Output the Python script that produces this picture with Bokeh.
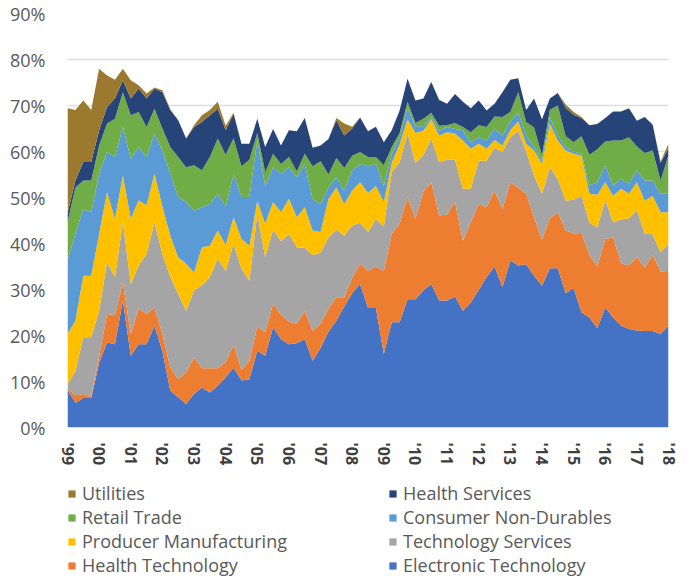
from bokeh.plotting import figure
from bokeh.layouts import column
from bokeh.models import ColumnDataSource, Range1d, FixedTicker, Legend, LegendItem
from bokeh.embed import file_html
from bokeh.resources import INLINE

# ---- data (share of index, %, quarterly from Q1 1999 to Q1 2018) ----
year_labels = ["'99", "'00", "'01", "'02", "'03", "'04", "'05", "'06", "'07", "'08",
               "'09", "'10", "'11", "'12", "'13", "'14", "'15", "'16", "'17", "'18"]

electronic_technology = [8.2, 5.3, 6.4, 6.4, 14.0, 18.5, 18.1, 27.6, 15.6, 18.1, 18.1, 22.1, 16.6, 8.0, 6.6, 5.1,
    7.3, 8.7, 7.6, 9.1, 10.9, 13.0, 10.2, 10.5, 16.7, 15.6, 21.8, 19.2, 18.1, 18.3, 19.2, 14.5,
    17.3, 20.8, 23.2, 26.3, 29.2, 31.2, 26.0, 26.0, 16.0, 22.9, 22.9, 27.9, 27.9, 29.8, 31.2, 27.6,
    27.6, 28.5, 25.4, 27.2, 29.9, 32.7, 35.0, 30.5, 36.3, 35.2, 35.5, 33.0, 30.8, 34.6, 34.6, 29.2,
    30.3, 25.0, 23.9, 21.6, 26.1, 23.9, 22.1, 21.4, 21.1, 21.0, 21.0, 20.3, 22.1]
health_technology = [0.4, 1.7, 0.9, 0.4, 1.5, 6.2, 6.3, 4.0, 4.7, 7.7, 6.6, 4.0, 3.7, 5.1, 3.9, 6.9,
    7.9, 4.2, 5.3, 3.8, 3.3, 5.0, 2.3, 4.0, 5.3, 5.1, 5.1, 5.3, 4.9, 4.2, 6.2, 6.5,
    5.3, 5.0, 5.1, 2.0, 3.3, 4.4, 8.0, 9.0, 18.0, 19.2, 21.4, 22.2, 17.5, 21.5, 22.1, 18.5,
    18.7, 20.6, 15.2, 17.4, 18.7, 15.2, 16.5, 17.0, 17.0, 17.0, 15.3, 12.7, 10.0, 10.9, 12.2, 13.6,
    11.9, 17.3, 13.6, 13.4, 14.9, 17.4, 13.6, 13.8, 15.9, 13.8, 16.5, 13.6, 11.9]
technology_services = [0.8, 5.3, 12.3, 12.8, 9.9, 11.2, 8.3, 13.0, 10.9, 9.4, 13.0, 18.5, 17.4, 19.6, 18.5, 13.4,
    14.6, 18.0, 19.8, 23.8, 19.8, 22.0, 22.0, 17.4, 24.5, 16.3, 16.1, 16.0, 19.0, 16.7, 13.6, 16.5,
    15.4, 15.5, 14.7, 13.4, 11.4, 8.9, 8.5, 10.3, 9.7, 13.4, 13.4, 13.9, 12.1, 7.9, 9.5, 11.6,
    11.9, 9.1, 11.3, 7.3, 9.4, 10.1, 9.3, 12.4, 9.8, 12.3, 9.2, 9.1, 10.0, 11.1, 7.2, 6.5,
    7.3, 8.1, 7.0, 8.5, 8.5, 3.3, 9.5, 10.3, 10.3, 7.3, 4.5, 4.2, 5.9]
producer_manufacturing = [10.9, 10.9, 13.4, 13.4, 16.7, 15.3, 12.7, 10.2, 14.2, 14.2, 10.6, 10.6, 10.3, 9.0, 8.0, 10.2,
    3.9, 8.3, 6.8, 6.1, 5.7, 5.7, 6.5, 7.6, 2.8, 7.3, 6.0, 6.3, 7.7, 6.5, 8.9, 5.3,
    4.5, 8.4, 9.2, 6.9, 7.6, 8.8, 8.5, 7.2, 5.3, 2.0, 3.8, 3.0, 6.5, 5.3, 4.2, 5.8,
    6.0, 5.7, 10.5, 8.7, 3.7, 2.6, 1.7, 1.4, 1.5, 2.1, 1.7, 5.4, 6.5, 9.4, 8.4, 10.9,
    10.0, 8.7, 6.3, 7.1, 3.8, 5.8, 6.7, 5.3, 6.0, 7.2, 8.4, 8.7, 6.9]
consumer_non_durables = [16.0, 18.9, 14.5, 13.8, 13.1, 8.7, 13.4, 10.5, 13.0, 11.6, 10.5, 8.7, 12.2, 13.5, 13.1, 13.4,
    13.5, 8.7, 9.1, 8.0, 8.3, 9.3, 9.1, 10.6, 13.2, 8.2, 7.6, 8.4, 6.9, 8.7, 9.4, 6.9,
    6.1, 2.5, 2.2, 2.9, 4.4, 4.0, 5.8, 4.8, 3.5, 2.0, 1.5, 2.5, 1.5, 1.0, 0.5, 1.0,
    1.1, 1.0, 2.2, 1.4, 1.4, 1.8, 2.5, 2.2, 1.9, 1.9, 1.8, 0.8, 0.7, 1.5, 1.1, 0.8,
    0.5, 0.4, 1.8, 2.7, 3.7, 2.2, 2.2, 2.2, 2.6, 4.4, 3.3, 4.0, 4.0]
retail_trade = [8.3, 10.1, 6.2, 6.9, 6.1, 6.2, 8.3, 7.6, 9.5, 7.6, 6.5, 5.4, 4.8, 5.8, 8.7, 7.6,
    9.8, 8.0, 10.2, 12.0, 11.3, 7.9, 6.7, 8.1, 1.5, 3.0, 2.9, 2.1, 2.2, 1.3, 2.2, 7.1,
    9.3, 2.8, 4.2, 4.9, 3.2, 2.6, 2.0, 1.5, 4.5, 1.5, 1.0, 1.3, 0.7, 1.6, 0.9, 1.1,
    0.4, 1.3, 0.7, 2.2, 2.6, 2.9, 2.6, 4.0, 2.1, 4.4, 2.9, 4.2, 1.2, 1.6, 6.5, 2.3,
    2.0, 3.8, 6.7, 7.2, 5.2, 9.8, 8.3, 10.1, 5.2, 6.0, 6.5, 2.9, 8.4]
health_services = [1.9, 1.5, 4.0, 4.0, 3.3, 3.6, 4.4, 2.6, 3.6, 5.1, 6.2, 4.4, 7.9, 8.0, 8.0, 6.2,
    8.3, 10.5, 9.1, 6.5, 5.3, 5.3, 4.9, 3.5, 3.1, 5.5, 5.4, 4.0, 5.8, 8.7, 7.8, 4.0,
    3.4, 7.7, 8.2, 7.1, 5.9, 7.5, 5.6, 6.6, 5.0, 3.6, 4.9, 5.0, 4.9, 4.4, 6.7, 5.6,
    4.7, 6.3, 5.5, 5.2, 5.4, 3.6, 2.8, 5.4, 7.0, 3.0, 2.6, 6.3, 7.8, 2.4, 2.7, 6.2,
    6.0, 4.0, 6.4, 5.5, 5.1, 6.3, 6.3, 6.3, 5.6, 7.8, 5.6, 3.8, 1.5]
utilities = [22.9, 15.3, 13.4, 11.3, 13.4, 6.8, 4.1, 2.5, 4.0, 0.7, 1.1, 0.2, 0.4, 0.2, 0.0, 0.0,
    0.4, 1.5, 1.1, 1.5, 1.0, 0.2, 0.0, 0.0, 0.0, 0.0, 0.0, 0.0, 0.0, 0.0, 0.0, 0.0,
    0.0, 0.0, 0.5, 2.6, 0.4, 0.0, 0.0, 0.0, 0.0, 0.0, 0.0, 0.0, 0.0, 0.0, 0.0, 0.0,
    0.0, 0.0, 0.0, 0.0, 0.0, 0.0, 0.0, 0.0, 0.0, 0.0, 0.0, 0.0, 0.0, 0.0, 0.0, 0.7,
    0.6, 0.2, 0.0, 0.0, 0.0, 0.0, 0.0, 0.0, 0.0, 0.0, 0.0, 0.3, 1.0]

series_names = ["Electronic Technology", "Health Technology", "Technology Services",
                "Producer Manufacturing", "Consumer Non-Durables", "Retail Trade",
                "Health Services", "Utilities"]
series_values = [electronic_technology, health_technology, technology_services,
                 producer_manufacturing, consumer_non_durables, retail_trade,
                 health_services, utilities]
colors = ["#4472C4", "#ED7D31", "#A5A5A5", "#FFC000", "#5B9BD5", "#70AD47", "#264478", "#9B7A2F"]
y_ticks = [0, 10, 20, 30, 40, 50, 60, 70, 80, 90]
legend_order = ["Utilities", "Health Services", "Retail Trade", "Consumer Non-Durables",
                "Producer Manufacturing", "Technology Services", "Health Technology",
                "Electronic Technology"]

n = len(electronic_technology)
keys = ["s%d" % k for k in range(len(series_names))]
data = {"x": list(range(n))}
for k, vals in zip(keys, series_values):
    data[k] = vals
source = ColumnDataSource(data)

TEXT = "#595959"

p = figure(width=683, height=474, output_backend="svg", toolbar_location=None,
           x_range=Range1d(0, n - 1), y_range=Range1d(0, 90),
           min_border_left=67, min_border_right=15, min_border_top=13, min_border_bottom=47)
p.outline_line_color = None
p.background_fill_color = "white"

renderers = p.varea_stack(stackers=keys, x="x", color=colors, source=source)

p.xaxis.ticker = FixedTicker(ticks=[4 * k for k in range(len(year_labels))])
p.xaxis.major_label_overrides = {4 * k: lab for k, lab in enumerate(year_labels)}
p.xaxis.major_label_orientation = "vertical"
p.xaxis.major_label_text_font = "Open Sans"
p.xaxis.major_label_text_font_style = "bold"
p.xaxis.major_label_text_font_size = "16px"
p.xaxis.major_label_text_color = "#404040"
p.xaxis.major_label_standoff = 9
p.xaxis.axis_line_color = None
p.xaxis.major_tick_line_color = None
p.xaxis.minor_tick_line_color = None

p.yaxis.ticker = FixedTicker(ticks=y_ticks)
p.yaxis.major_label_overrides = {t: "%d%%" % t for t in y_ticks}
p.yaxis.major_label_text_font = "Open Sans"
p.yaxis.major_label_text_font_size = "18px"
p.yaxis.major_label_text_color = TEXT
p.yaxis.major_label_standoff = 16
p.yaxis.axis_line_color = None
p.yaxis.major_tick_line_color = None
p.yaxis.minor_tick_line_color = None

p.xgrid.grid_line_color = None
p.ygrid.grid_line_color = "#DDDDDD"
p.ygrid.grid_line_width = 1.5
p.ygrid.level = "underlay"

# ---- legend in its own strip below the chart ----
lg = figure(width=683, height=103, output_backend="svg", toolbar_location=None,
            x_range=Range1d(0, 1), y_range=Range1d(0, 1),
            min_border_left=66, min_border_right=15, min_border_top=0, min_border_bottom=0)
lg.axis.visible = False
lg.grid.visible = False
lg.outline_line_color = None

dummy = {}
for nm, c in zip(series_names, colors):
    dummy[nm] = lg.varea(x=[-3, -2], y1=[0, 0], y2=[1, 1], color=c)

legend = Legend(items=[LegendItem(label=nm, renderers=[dummy[nm]]) for nm in legend_order],
                location="bottom_left", orientation="horizontal", ncols=2,
                glyph_width=9, glyph_height=9, label_standoff=6, spacing=0,
                padding=0, margin=0, border_line_color=None, background_fill_alpha=0,
                label_text_font="Open Sans", label_text_font_size="18px",
                label_text_color=TEXT, label_height=21, label_width=306)
lg.add_layout(legend)

layout = column(p, lg, spacing=0)
open("out.html", "w").write(file_html(layout, INLINE))
